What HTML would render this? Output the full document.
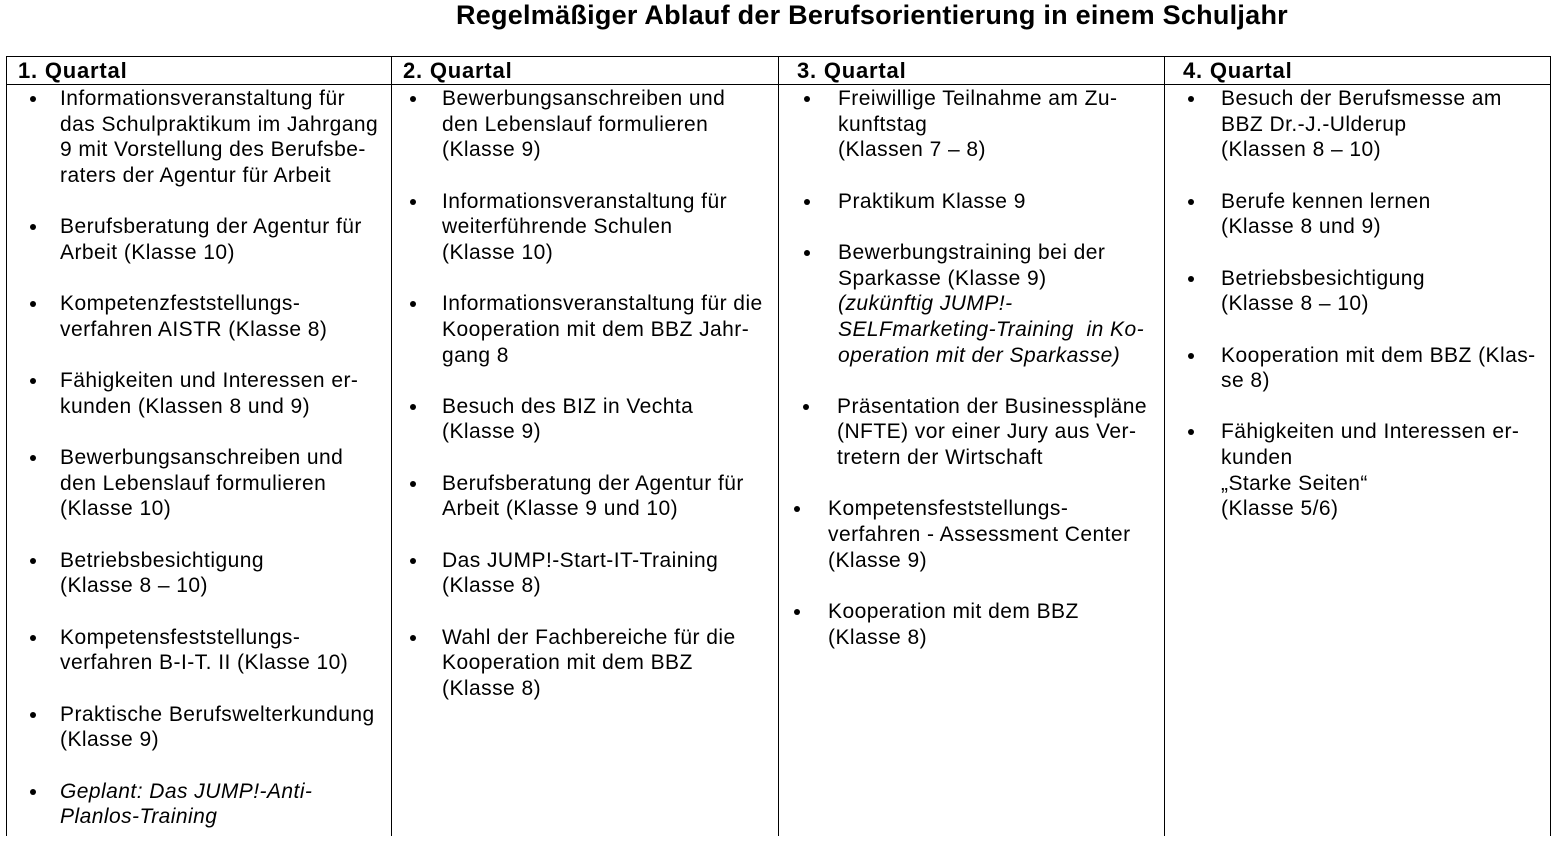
<!DOCTYPE html>
<html><head><meta charset="utf-8"><style>
body{margin:0;background:#fff;width:1554px;height:836px;overflow:hidden;position:relative;font-family:"Liberation Sans",Arial,sans-serif;color:#000}
.t{position:absolute;left:300px;top:0px;font-size:27px;line-height:30px;font-weight:bold;white-space:nowrap;width:1144px;text-align:center;letter-spacing:0.25px}
.line{position:absolute;background:#000}
.h{position:absolute;top:58px;font-size:22px;font-weight:bold;line-height:26px;letter-spacing:0.8px}
.col{position:absolute;top:86px;font-size:21px;letter-spacing:0.45px;line-height:25.65px;white-space:nowrap}
.it{position:relative;margin-bottom:25.65px}
.it::before{content:"";position:absolute;left:var(--b);top:10px;width:6px;height:6px;border-radius:50%;background:#000}
i{font-style:italic}
</style></head><body>
<div class="t">Regelmäßiger Ablauf der Berufsorientierung in einem Schuljahr</div>
<div class="line" style="left:6px;top:56px;width:1545px;height:1px"></div>
<div class="line" style="left:6px;top:84px;width:1545px;height:1px"></div>
<div class="line" style="left:6px;top:56px;width:1px;height:780px"></div>
<div class="line" style="left:391px;top:56px;width:1px;height:780px"></div>
<div class="line" style="left:778px;top:56px;width:1px;height:780px"></div>
<div class="line" style="left:1164px;top:56px;width:1px;height:780px"></div>
<div class="line" style="left:1550px;top:56px;width:1px;height:780px"></div>
<div class="h" style="left:18px">1. Quartal</div>
<div class="h" style="left:403px">2. Quartal</div>
<div class="h" style="left:797px">3. Quartal</div>
<div class="h" style="left:1183px">4. Quartal</div>

<div class="col" style="left:60px;--b:-30px">
<div class="it">Informationsveranstaltung für<br>das Schulpraktikum im Jahrgang<br>9 mit Vorstellung des Berufsbe-<br>raters der Agentur für Arbeit</div>
<div class="it">Berufsberatung der Agentur für<br>Arbeit (Klasse 10)</div>
<div class="it">Kompetenzfeststellungs-<br>verfahren AISTR (Klasse 8)</div>
<div class="it">Fähigkeiten und Interessen er-<br>kunden (Klassen 8 und 9)</div>
<div class="it">Bewerbungsanschreiben und<br>den Lebenslauf formulieren<br>(Klasse 10)</div>
<div class="it">Betriebsbesichtigung<br>(Klasse 8 – 10)</div>
<div class="it">Kompetensfeststellungs-<br>verfahren B-I-T. II (Klasse 10)</div>
<div class="it">Praktische Berufswelterkundung<br>(Klasse 9)</div>
<div class="it"><i>Geplant: Das JUMP!-Anti-<br>Planlos-Training</i></div>
</div>

<div class="col" style="left:442px;--b:-32px">
<div class="it">Bewerbungsanschreiben und<br>den Lebenslauf formulieren<br>(Klasse 9)</div>
<div class="it">Informationsveranstaltung für<br>weiterführende Schulen<br>(Klasse 10)</div>
<div class="it">Informationsveranstaltung für die<br>Kooperation mit dem BBZ Jahr-<br>gang 8</div>
<div class="it">Besuch des BIZ in Vechta<br>(Klasse 9)</div>
<div class="it">Berufsberatung der Agentur für<br>Arbeit (Klasse 9 und 10)</div>
<div class="it">Das JUMP!-Start-IT-Training<br>(Klasse 8)</div>
<div class="it">Wahl der Fachbereiche für die<br>Kooperation mit dem BBZ<br>(Klasse 8)</div>
</div>

<div class="col" style="left:838px;--b:-34px">
<div class="it">Freiwillige Teilnahme am Zu-<br>kunftstag<br>(Klassen 7 – 8)</div>
<div class="it">Praktikum Klasse 9</div>
<div class="it">Bewerbungstraining bei der<br>Sparkasse (Klasse 9)<br><i>(zukünftig JUMP!-<br>SELFmarketing-Training&nbsp; in Ko-<br>operation mit der Sparkasse)</i></div>
<div class="it" style="left:-1px">Präsentation der Businesspläne<br>(NFTE) vor einer Jury aus Ver-<br>tretern der Wirtschaft</div>
<div class="it" style="left:-10px">Kompetensfeststellungs-<br>verfahren - Assessment Center<br>(Klasse 9)</div>
<div class="it" style="left:-10px">Kooperation mit dem BBZ<br>(Klasse 8)</div>
</div>

<div class="col" style="left:1221px;--b:-33px">
<div class="it">Besuch der Berufsmesse am<br>BBZ Dr.-J.-Ulderup<br>(Klassen 8 – 10)</div>
<div class="it">Berufe kennen lernen<br>(Klasse 8 und 9)</div>
<div class="it">Betriebsbesichtigung<br>(Klasse 8 – 10)</div>
<div class="it">Kooperation mit dem BBZ (Klas-<br>se 8)</div>
<div class="it">Fähigkeiten und Interessen er-<br>kunden<br>„Starke Seiten“<br>(Klasse 5/6)</div>
</div>
</body></html>
